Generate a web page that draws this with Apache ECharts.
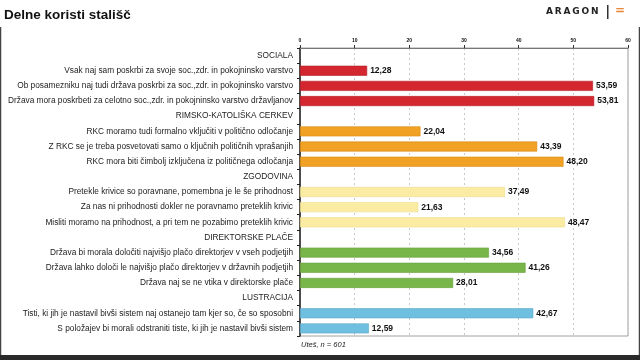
<!DOCTYPE html>
<html>
<head>
<meta charset="utf-8">
<script src="https://cdn.jsdelivr.net/npm/echarts@6/dist/echarts.min.js"></script>
<style>html,body{margin:0;padding:0;background:#fff;}#c{width:640px;height:360px;}</style>
</head>
<body>
<div id="c"></div>
<script>
var categories = [
  'SOCIALA',
  'Vsak naj sam poskrbi za svoje soc.,zdr. in pokojninsko varstvo',
  'Ob posamezniku naj tudi država poskrbi za soc.,zdr. in pokojninsko varstvo',
  'Država mora poskrbeti za celotno soc.,zdr. in pokojninsko varstvo državljanov',
  'RIMSKO-KATOLIŠKA CERKEV',
  'RKC moramo tudi formalno vključiti v politično odločanje',
  'Z RKC se je treba posvetovati samo o ključnih političnih vprašanjih',
  'RKC mora biti čimbolj izključena iz političnega odločanja',
  'ZGODOVINA',
  'Pretekle krivice so poravnane, pomembna je le še prihodnost',
  'Za nas ni prihodnosti dokler ne poravnamo preteklih krivic',
  'Misliti moramo na prihodnost, a pri tem ne pozabimo preteklih krivic',
  'DIREKTORSKE PLAČE',
  'Država bi morala določiti najvišjo plačo direktorjev v vseh podjetjih',
  'Država lahko določi le najvišjo plačo direktorjev v državnih podjetjih',
  'Država naj se ne vtika v direktorske plače',
  'LUSTRACIJA',
  'Tisti, ki jih je nastavil bivši sistem naj ostanejo tam kjer so, če so sposobni',
  'S položajev bi morali odstraniti tiste, ki jih je nastavil bivši sistem'
];
var values = [null, 12.28, 53.59, 53.81, null, 22.04, 43.39, 48.20, null, 37.49, 21.63, 48.47, null, 34.56, 41.26, 28.01, null, 42.67, 12.59];
var groupIndex = [0, 0, 0, 0, 1, 1, 1, 1, 2, 2, 2, 2, 3, 3, 3, 3, 4, 4, 4];
var groupColors = ['#d3262e', '#f1a224', '#faeca2', '#78b64a', '#6fbfe0'];
var groupBorders = ['#b51d24', '#d98c14', '#efdc88', '#67a03c', '#5aa9cb'];
var xTicks = [0, 10, 20, 30, 40, 50, 60];
var titleText = 'Delne koristi stališč';
var footText = 'Uteš, n = 601';

var data = values.map(function (v, i) {
  return {
    value: v,
    itemStyle: {
      color: groupColors[groupIndex[i]],
      borderColor: groupBorders[groupIndex[i]],
      borderWidth: 0.6
    }
  };
});

var chart = echarts.init(document.getElementById('c'));
chart.setOption({
  animation: false,
  backgroundColor: '#fff',
  title: {
    text: titleText,
    left: 4, top: 8, padding: 0,
    textStyle: { fontFamily: 'Liberation Sans', fontWeight: 'bold', fontSize: 13.5, color: '#111' }
  },
  grid: {
    left: 300, right: 12, top: 48, bottom: 24, containLabel: false, outerBoundsMode: 'none',
    show: true, borderColor: '#a0a0a0', borderWidth: 1
  },
  xAxis: {
    type: 'value', position: 'top', min: xTicks[0], max: xTicks[xTicks.length - 1], interval: 10,
    axisLine: { show: true, lineStyle: { color: '#777', width: 1 } },
    axisTick: { show: true, length: 3, lineStyle: { color: '#333' } },
    axisLabel: { fontSize: 5, fontWeight: 'bold', color: '#111', margin: 5, fontFamily: 'Liberation Sans' },
    splitLine: { show: true, lineStyle: { color: '#c8c8c8', type: [2, 3], width: 1 } }
  },
  yAxis: {
    type: 'category', data: categories, inverse: true,
    axisLine: { show: true, lineStyle: { color: '#222', width: 1.5 } },
    axisTick: { show: true, length: 3, alignWithLabel: false, lineStyle: { color: '#222' } },
    axisLabel: { fontSize: 8.3, color: '#222', margin: 7, fontFamily: 'Liberation Sans', interval: 0 },
    splitLine: { show: false }
  },
  series: [{
    type: 'bar', data: data, barWidth: 10,
    label: {
      show: true, position: 'right', distance: 3,
      fontSize: 8.5, fontWeight: 'bold', color: '#111', fontFamily: 'Liberation Sans',
      formatter: function (p) { return p.value == null ? '' : p.value.toFixed(2).replace('.', ','); }
    }
  }],
  graphic: [
    { type: 'text', left: 546, top: 7, style: { text: 'A\u2009R\u2009A\u2009G\u2009O\u2009N', font: 'bold 9px "DejaVu Sans"', fill: '#222' } },
    { type: 'rect', shape: { x: 607, y: 5, width: 1.5, height: 14 }, style: { fill: '#333' } },
    { type: 'text', left: 615, top: 5, style: { text: '=', font: 'bold 12px "DejaVu Sans"', fill: '#e8893a' } },
    { type: 'text', left: 301, top: 341, style: { text: footText, font: 'italic 7.5px "Liberation Sans"', fill: '#222' } },
    { type: 'line', shape: { x1: 0.5, y1: 27, x2: 0.5, y2: 360 }, style: { stroke: '#444', lineWidth: 1.5 } },
    { type: 'line', shape: { x1: 639.5, y1: 27, x2: 639.5, y2: 360 }, style: { stroke: '#444', lineWidth: 1.5 } },
    { type: 'rect', shape: { x: 0, y: 355, width: 640, height: 5 }, style: { fill: '#2a2a2a' } }
  ]
});
</script>
</body>
</html>
